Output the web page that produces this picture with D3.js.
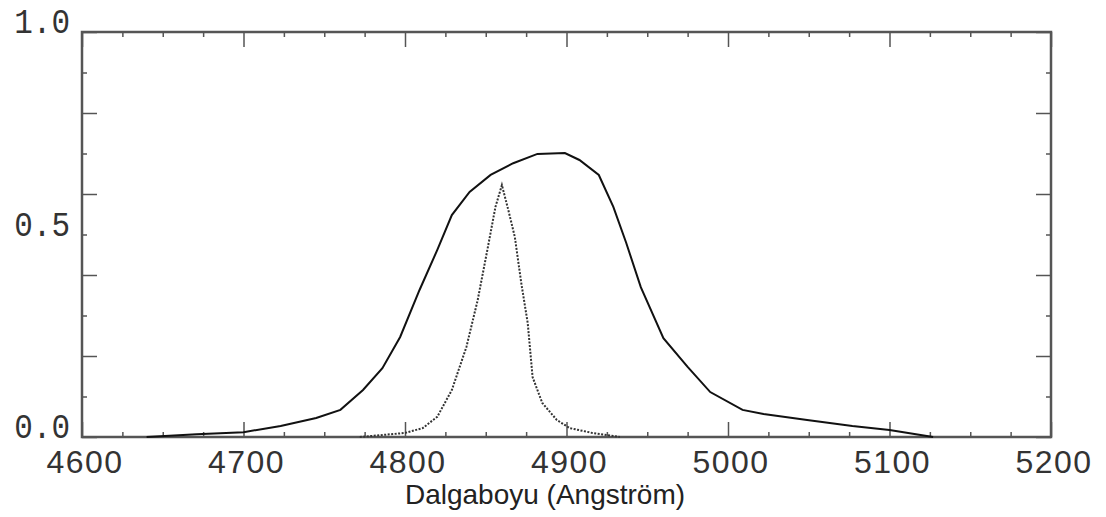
<!DOCTYPE html>
<html>
<head>
<meta charset="utf-8">
<script src="https://cdn.jsdelivr.net/npm/d3@7"></script>
<style>
  body { margin: 0; background: #fff; }
  svg { display: block; }
</style>
</head>
<body>
<div id="chart"></div>
<script>
// filter transmission (solid) -- wavelength in Angstrom, transmission
const solidWave = [4640, 4671, 4700, 4723, 4745, 4760, 4774, 4786, 4797, 4809, 4820, 4829, 4840, 4853, 4867, 4882, 4899, 4908, 4920, 4929, 4937, 4946, 4960, 4975, 4989, 5009, 5022, 5049, 5077, 5100, 5127];
const solidTrans = [0.0, 0.007, 0.012, 0.027, 0.047, 0.067, 0.116, 0.170, 0.247, 0.363, 0.462, 0.548, 0.605, 0.647, 0.676, 0.699, 0.701, 0.684, 0.647, 0.568, 0.479, 0.37, 0.244, 0.173, 0.111, 0.067, 0.057, 0.042, 0.027, 0.017, 0.0];

// H-beta line profile (dotted)
const dotWave = [4772, 4800, 4811, 4820, 4829, 4838, 4845, 4851, 4856, 4860, 4864, 4868, 4872, 4876, 4879, 4885, 4894, 4902, 4916, 4933];
const dotTrans = [0.0, 0.01, 0.022, 0.05, 0.116, 0.222, 0.338, 0.462, 0.568, 0.622, 0.56, 0.494, 0.38, 0.281, 0.148, 0.084, 0.042, 0.022, 0.01, 0.0];

const xLabels = [4600, 4700, 4800, 4900, 5000, 5100, 5200];
const yLabels = [0.0, 0.5, 1.0];
const xTitle = "Dalgaboyu (Angström)";

const W = 1106, H = 517;
const margin = {left: 82, right: 1051, top: 32, bottom: 437};

const svg = d3.select("#chart").append("svg")
    .attr("width", W)
    .attr("height", H);

const x = d3.scaleLinear().domain([4600, 5200]).range([margin.left, margin.right]);
const y = d3.scaleLinear().domain([0, 1]).range([margin.bottom, margin.top]);

const axisColor = "#555";

const majorX = d3.range(4600, 5201, 100);
const minorX = d3.range(4600, 5201, 25).filter(v => v % 100 !== 0);
const majorY = d3.range(0, 1.01, 0.2);
const minorY = d3.range(0.1, 1.0, 0.2);

function styleTicks(g) {
    g.select(".domain").remove();
    g.selectAll("line").attr("stroke", axisColor).attr("stroke-width", 1.5);
}

// bottom
svg.append("g").attr("transform", `translate(0,${margin.bottom})`)
    .call(d3.axisBottom(x).tickValues(majorX).tickSize(-15).tickFormat(""))
    .call(styleTicks);
svg.append("g").attr("transform", `translate(0,${margin.bottom})`)
    .call(d3.axisBottom(x).tickValues(minorX).tickSize(-5).tickFormat(""))
    .call(styleTicks);
// top
svg.append("g").attr("transform", `translate(0,${margin.top})`)
    .call(d3.axisTop(x).tickValues(majorX).tickSize(-15).tickFormat(""))
    .call(styleTicks);
svg.append("g").attr("transform", `translate(0,${margin.top})`)
    .call(d3.axisTop(x).tickValues(minorX).tickSize(-5).tickFormat(""))
    .call(styleTicks);
// left
svg.append("g").attr("transform", `translate(${margin.left},0)`)
    .call(d3.axisLeft(y).tickValues(majorY).tickSize(-15).tickFormat(""))
    .call(styleTicks);
svg.append("g").attr("transform", `translate(${margin.left},0)`)
    .call(d3.axisLeft(y).tickValues(minorY).tickSize(-5).tickFormat(""))
    .call(styleTicks);
// right
svg.append("g").attr("transform", `translate(${margin.right},0)`)
    .call(d3.axisRight(y).tickValues(majorY).tickSize(-15).tickFormat(""))
    .call(styleTicks);
svg.append("g").attr("transform", `translate(${margin.right},0)`)
    .call(d3.axisRight(y).tickValues(minorY).tickSize(-5).tickFormat(""))
    .call(styleTicks);

// frame
svg.append("rect")
    .attr("x", margin.left).attr("y", margin.top)
    .attr("width", margin.right - margin.left).attr("height", margin.bottom - margin.top)
    .attr("fill", "none")
    .attr("stroke", axisColor)
    .attr("stroke-width", 2.5);

// x labels
svg.append("g").selectAll("text")
    .data(xLabels)
    .join("text")
    .attr("x", d => x(d) + 3)
    .attr("y", margin.bottom + 36)
    .attr("text-anchor", "middle")
    .attr("font-family", "Liberation Sans, Arial, sans-serif")
    .attr("font-size", 32)
    .attr("letter-spacing", 1.5)
    .attr("fill", "#333")
    .text(d => d);

// y labels (bottom aligned at the value, monospace)
svg.append("g").selectAll("text")
    .data(yLabels)
    .join("text")
    .attr("transform", d => `translate(${margin.left - 12},${y(d) + 1}) scale(1,1.12)`)
    .attr("text-anchor", "end")
    .attr("font-family", "Liberation Mono, Courier New, monospace")
    .attr("font-size", 31)
    .attr("fill", "#333")
    .text(d => d.toFixed(1));

// axis title
svg.append("text")
    .attr("x", 545)
    .attr("y", 504)
    .attr("text-anchor", "middle")
    .attr("font-family", "Liberation Sans, Arial, sans-serif")
    .attr("font-size", 28)
    .attr("fill", "#222")
    .text(xTitle);

const line = d3.line()
    .x(d => x(d[0]))
    .y(d => y(d[1]));

svg.append("path")
    .datum(d3.zip(dotWave, dotTrans))
    .attr("d", line)
    .attr("fill", "none")
    .attr("stroke", "#333")
    .attr("stroke-width", 2)
    .attr("stroke-dasharray", "2,1.5");

svg.append("path")
    .datum(d3.zip(solidWave, solidTrans))
    .attr("d", line)
    .attr("fill", "none")
    .attr("stroke", "#111")
    .attr("stroke-width", 2);
</script>
</body>
</html>
